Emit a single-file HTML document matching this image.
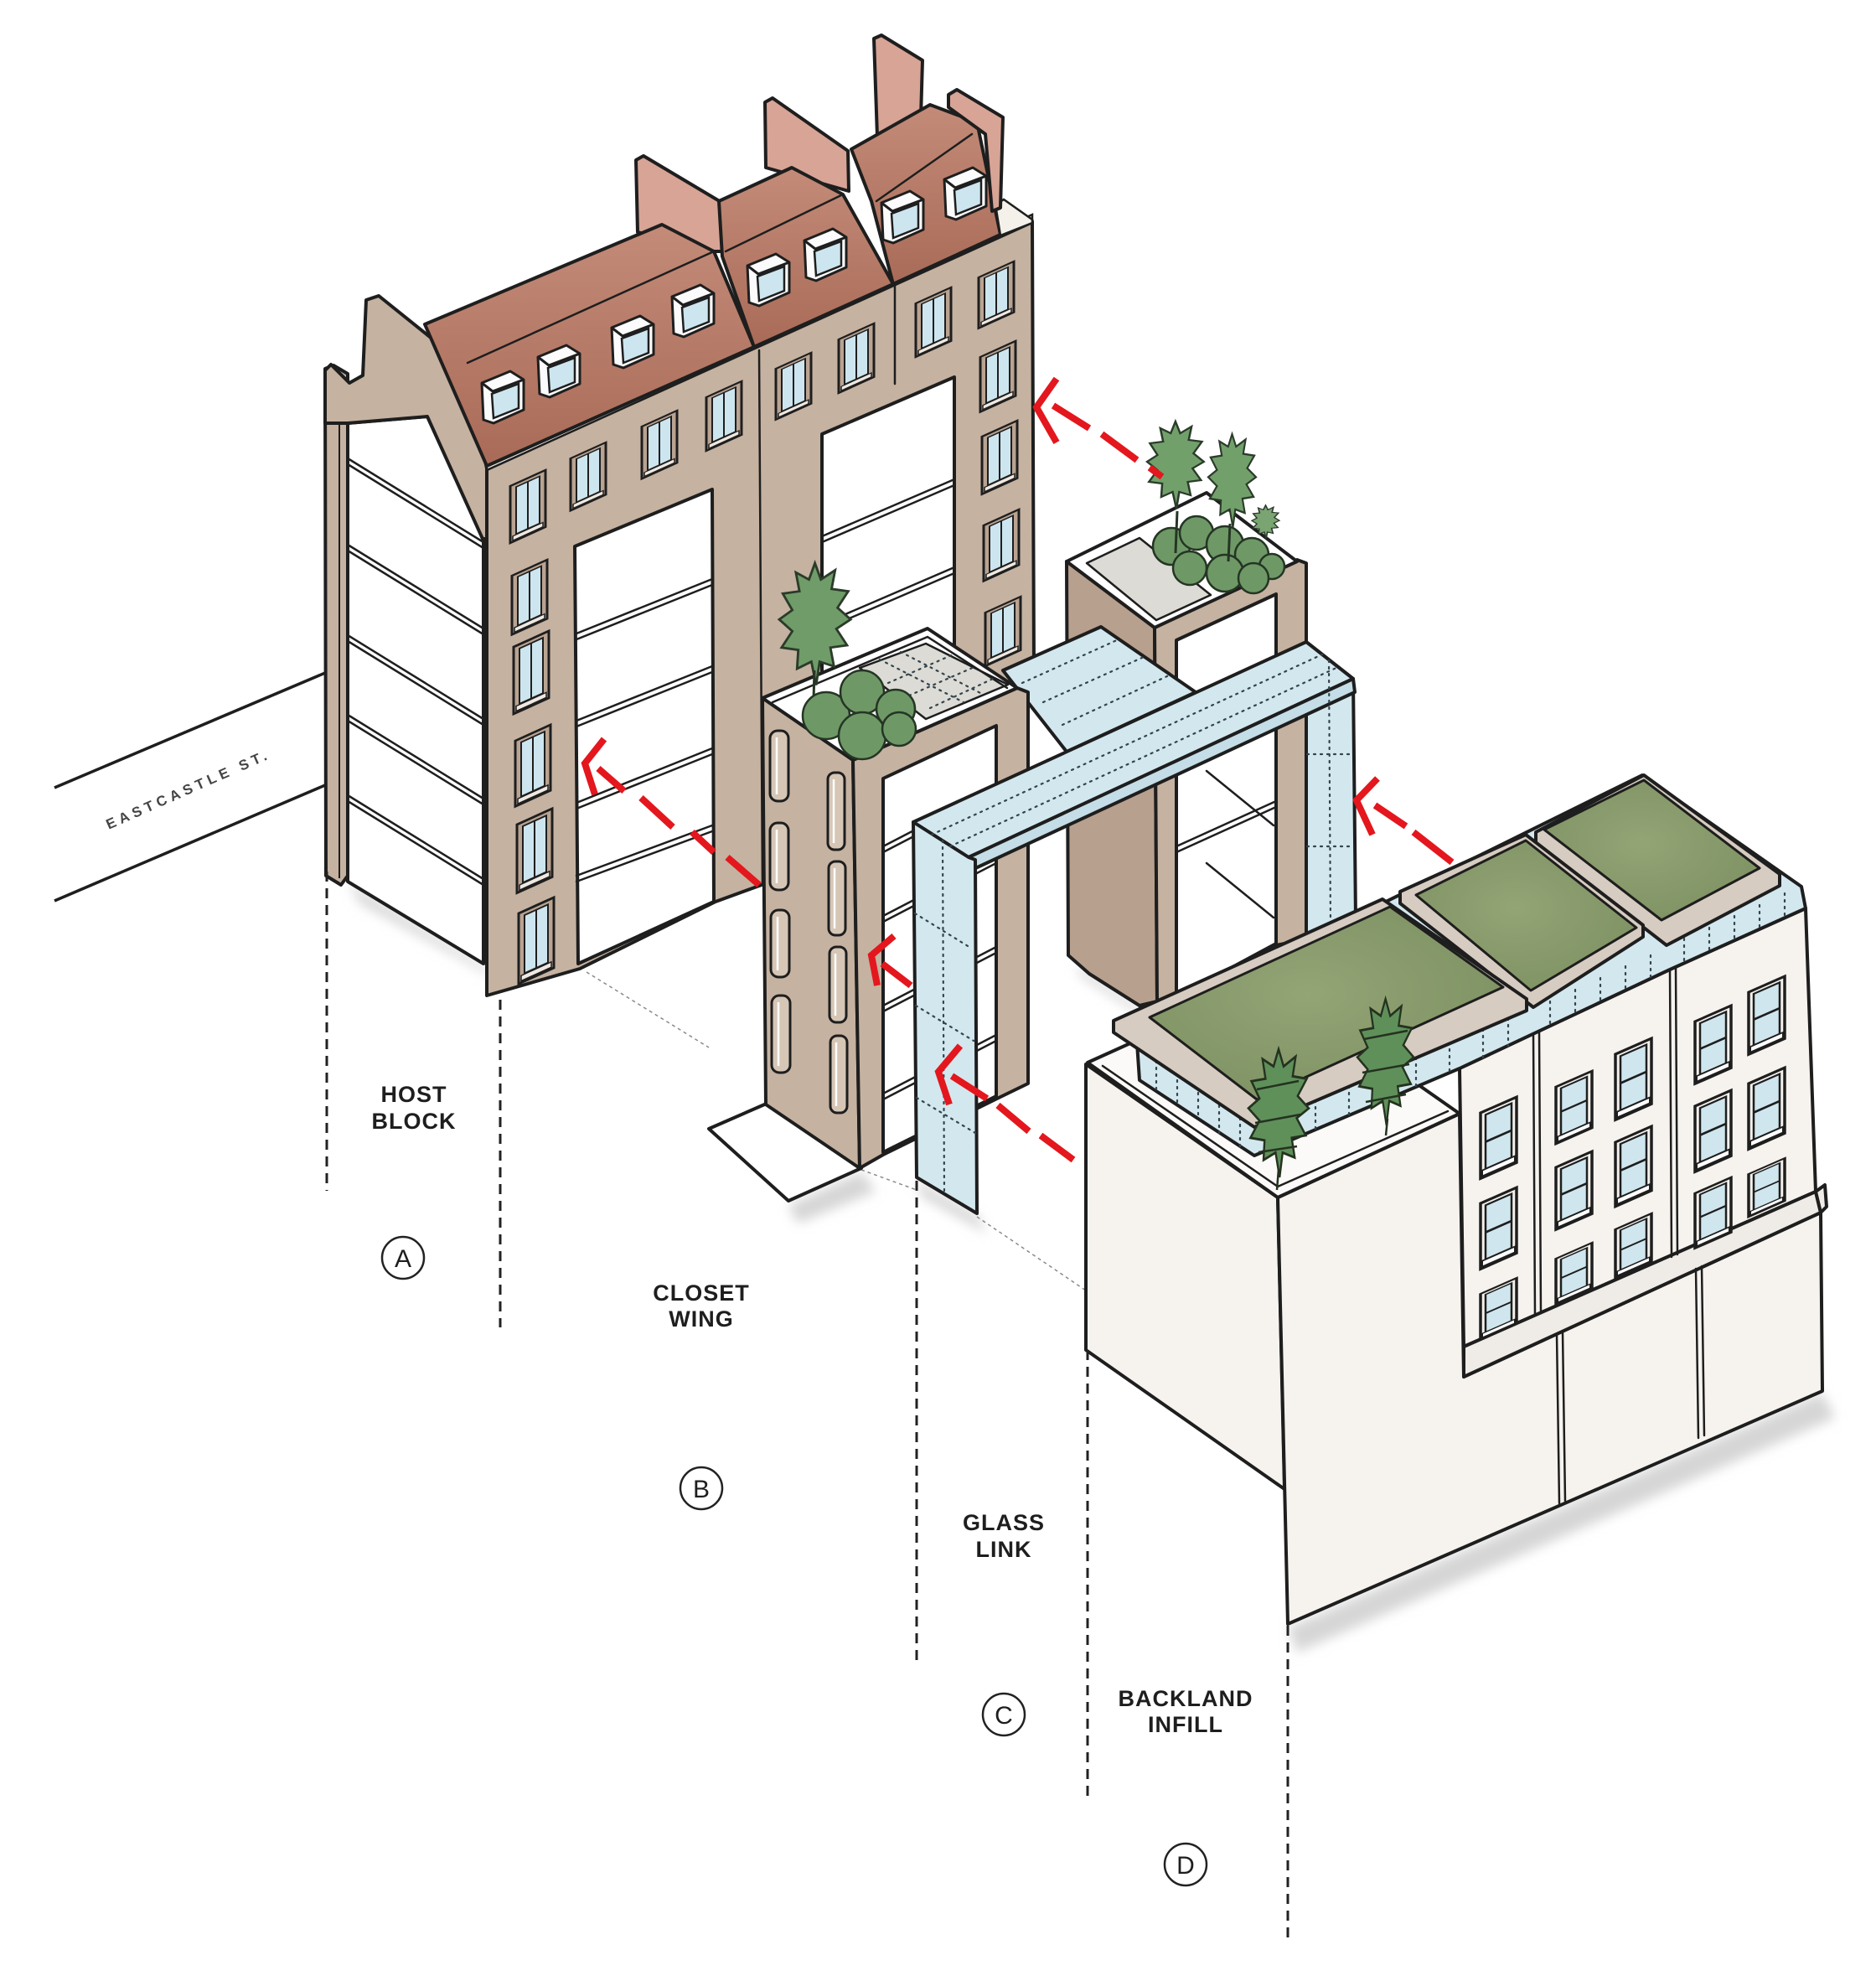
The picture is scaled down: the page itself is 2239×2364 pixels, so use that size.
<!DOCTYPE html>
<html><head><meta charset="utf-8"><title>Diagram</title>
<style>
html,body{margin:0;padding:0;background:#fff}
svg{display:block}
.k{stroke:#1e1e1e;stroke-width:4;stroke-linejoin:round;stroke-linecap:round}
.l{stroke:#1e1e1e;stroke-width:2.5;fill:none;stroke-linecap:round}
.tan{fill:#c5b2a1}
.tan2{fill:#b8a08e}
.gl{fill:#d3e7ee}
.ow{fill:#f6f3ef}
.red{stroke:#e3171d;stroke-width:8;fill:none;stroke-linecap:butt;stroke-linejoin:miter}
.dl{stroke:#222;stroke-width:3;stroke-dasharray:12 8;fill:none}
.dot{stroke:#33444c;stroke-width:2.2;stroke-dasharray:2 6;fill:none;stroke-linecap:round}
.lbl{font-family:"Liberation Sans",Arial,sans-serif;font-weight:bold;font-size:27px;fill:#1e1e1e;letter-spacing:1px;text-anchor:middle}
.cl{font-family:"Liberation Sans",Arial,sans-serif;font-size:30px;fill:#1e1e1e;text-anchor:middle}
</style></head><body>
<svg xmlns="http://www.w3.org/2000/svg" width="2239" height="2364" viewBox="0 0 2239 2364">
<defs>
<linearGradient id="rg" x1="0" y1="0" x2="0" y2="1"><stop offset="0" stop-color="#c38b78"/><stop offset="1" stop-color="#a96b58"/></linearGradient>
<radialGradient id="gg" cx="0.45" cy="0.45" r="0.75"><stop offset="0" stop-color="#93a475"/><stop offset="1" stop-color="#7a8e5f"/></radialGradient>
<filter id="bl" x="-30%" y="-30%" width="160%" height="160%"><feGaussianBlur stdDeviation="7"/></filter>
<g id="hw">
 <rect width="42" height="80" fill="#b9a391" stroke="#1e1e1e" stroke-width="3"/>
 <rect x="7" y="5" width="28" height="66" fill="#cde5ee" stroke="#1e1e1e" stroke-width="2"/>
 <line x1="21" y1="5" x2="21" y2="71" stroke="#1e1e1e" stroke-width="2"/>
 <rect x="3" y="72" width="36" height="6" fill="#efe9e2" stroke="#1e1e1e" stroke-width="1.5"/>
</g>
<g id="bw">
 <rect width="43" height="80" fill="#f4f1ec" stroke="#1e1e1e" stroke-width="3.5"/>
 <rect x="6" y="5" width="31" height="66" fill="#cfe6ef" stroke="#1e1e1e" stroke-width="2.5"/>
 <line x1="6" y1="38" x2="37" y2="38" stroke="#1e1e1e" stroke-width="3"/>
 <rect x="2" y="71" width="39" height="7" fill="#fff" stroke="#1e1e1e" stroke-width="2"/>
</g>
<g id="dm">
 <polygon points="0,14 34,0 50,10 50,46 14,62 2,58" fill="#fbfbfb" stroke="#1e1e1e" stroke-width="3" stroke-linejoin="round"/>
 <polygon points="12,27 44,15 44,44 14,56" fill="#cde5ee" stroke="#1e1e1e" stroke-width="2.5"/>
 <polyline points="0,14 13,24 50,10" fill="none" stroke="#1e1e1e" stroke-width="3"/>
</g>
<path id="hl" d="M30,0 L35,14 L47,6 L44,22 L58,24 L49,38 L60,48 L48,56 L57,70 L43,72 L46,88 L34,84 L31,104 L27,84 L15,90 L16,74 L2,72 L11,58 L0,48 L11,40 L3,26 L17,24 L14,8 L25,14 Z"/>
</defs>

<!-- STREET -->
<line x1="65" y1="940" x2="388" y2="803" stroke="#1e1e1e" stroke-width="3.5"/>
<line x1="65" y1="1075" x2="388" y2="937" stroke="#1e1e1e" stroke-width="3.5"/>
<text transform="translate(227,947) rotate(-23.8)" font-family="Liberation Sans, Arial, sans-serif" font-weight="bold" font-size="17" letter-spacing="5" text-anchor="middle" fill="#444">EASTCASTLE ST.</text>

<!-- SHADOWS -->
<g filter="url(#bl)" fill="#d6d6d6">
<polygon points="415,1052 577,1152 605,1175 430,1078"/>
<polygon points="941,1438 1028,1398 1045,1422 952,1460"/>
<polygon points="1537,1942 2175,1662 2190,1692 1548,1972"/>
<polygon points="1094,1408 1166,1450 1178,1472 1100,1428"/>
<polygon points="1284,1150 1360,1202 1372,1218 1290,1165"/>
</g>

<!-- faint ground lines -->
<g stroke="#8a8a8a" stroke-width="1.5" stroke-dasharray="4 4" fill="none">
<path d="M700,1160 L846,1250 M1028,1396 L1094,1420 M1166,1452 L1296,1540"/>
</g>

<!-- ================= HOST BLOCK ================= -->
<g class="k">
<polygon fill="#fff" points="415,505 510,497 577,643 577,1150 415,1052"/>
</g>
<path class="l" d="M415,547 L577,647 M415,554 L577,654 M415,650 L577,750 M415,657 L577,757 M415,758 L577,858 M415,765 L577,865 M415,853 L577,953 M415,860 L577,960 M415,949 L577,1049 M415,956 L577,1056"/>
<g class="k">
<polygon class="tan" points="388,440 398,436 415,446 415,1045 407,1056 389,1045"/>
</g>
<line x1="405" y1="445" x2="405" y2="1048" stroke="#1e1e1e" stroke-width="2"/>
<g class="k">
<polygon class="tan" points="388,442 395,435 417,457 433,448 437,358 452,353 554,435 581,559 581,643 576,643 510,497 415,505 388,505"/>
<!-- facade -->
<polygon class="tan" points="581,559 1232,264 1234,800 1190,830 909,1056 854,1076 692,1156 581,1188"/>
<polygon fill="#fff" points="686,652 850,584 852,1076 690,1150"/>
<polygon fill="#fff" points="981,518 1139,450 1139,900 981,960"/>
</g>
<path class="l" d="M688,756 L850,691 M688,763 L850,698 M688,860 L850,795 M688,867 L850,802 M688,958 L850,893 M688,965 L850,900 M688,1045 L850,985 M688,1052 L850,992"/>
<path class="l" d="M981,640 L1139,572 M981,647 L1139,579 M981,745 L1139,677 M981,752 L1139,684"/>
<path class="l" d="M906,418 L910,1056 M1068,340 L1068,458"/>
<!-- cornice -->
<polygon points="581,550 1232,256 1232,266 581,561" fill="#f3eee7" stroke="#1e1e1e" stroke-width="2.5"/>

<!-- party walls behind -->
<g class="k" fill="#d7a496">
<polygon points="759,191 768,186 862,242 862,300 852,300 761,277"/>
<polygon points="913,122 922,117 1012,180 1013,228 914,200"/>
<polygon points="1043,46 1052,42 1101,72 1099,140 1047,163"/>
</g>
<!-- roofs -->
<g class="k" fill="url(#rg)">
<polygon points="507,387 790,268 852,300 900,414 581,556"/>
<polygon points="858,240 945,200 1006,232 1066,339 900,414 862,306"/>
<polygon points="1016,178 1110,125 1166,146 1194,280 1066,339 1040,240"/>
</g>
<path class="l" d="M558,433 L852,300 M866,300 L1006,232 M1046,240 L1160,160" stroke="#5b3326"/>
<polygon points="1188,244 1198,238 1232,262 1232,266 1194,281" fill="#f4f0ea" stroke="#1e1e1e" stroke-width="2.5"/>
<polygon class="k" fill="#d7a496" points="1132,113 1142,107 1197,140 1194,248 1184,252 1176,160 1132,128"/>
<!-- dormers -->
<use href="#dm" transform="translate(575,443)"/>
<use href="#dm" transform="translate(642,412)"/>
<use href="#dm" transform="translate(730,377)"/>
<use href="#dm" transform="translate(802,340)"/>
<use href="#dm" transform="translate(892,303)"/>
<use href="#dm" transform="translate(960,273)"/>
<use href="#dm" transform="translate(1052,228)"/>
<use href="#dm" transform="translate(1127,200)"/>
<!-- facade windows -->
<use href="#hw" transform="translate(609,580) skewY(-24.4) scale(1,0.85)"/>
<use href="#hw" transform="translate(611,687) skewY(-24.4) scale(1,0.88)"/>
<use href="#hw" transform="translate(613,772) skewY(-24.4) scale(1,1.0)"/>
<use href="#hw" transform="translate(615,884) skewY(-24.4) scale(1,0.98)"/>
<use href="#hw" transform="translate(617,984) skewY(-24.4) scale(1,1.02)"/>
<use href="#hw" transform="translate(619,1090) skewY(-24.4) scale(1,1.05)"/>
<use href="#hw" transform="translate(681,547) skewY(-24.4) scale(1,0.78)"/>
<use href="#hw" transform="translate(766,509) skewY(-24.4) scale(1,0.78)"/>
<use href="#hw" transform="translate(843,474) skewY(-24.4) scale(1,0.8)"/>
<use href="#hw" transform="translate(926,440) skewY(-24.4) scale(1,0.76)"/>
<use href="#hw" transform="translate(1001,405) skewY(-24.4) scale(1,0.8)"/>
<use href="#hw" transform="translate(1093,362) skewY(-24.4) scale(1,0.8)"/>
<use href="#hw" transform="translate(1168,331) skewY(-24.4) scale(1,0.76)"/>
<use href="#hw" transform="translate(1170,426) skewY(-24.4) scale(1,0.82)"/>
<use href="#hw" transform="translate(1172,521) skewY(-24.4) scale(1,0.86)"/>
<use href="#hw" transform="translate(1174,627) skewY(-24.4) scale(1,0.83)"/>
<use href="#hw" transform="translate(1176,731) skewY(-24.4) scale(1,0.8)"/>

<!-- ================= REAR BOX ================= -->
<g class="k">
<polygon class="tan2" points="1273,670 1378,749 1381,1195 1360,1200 1300,1162 1275,1140"/>
<polygon class="tan" points="1378,749 1548,668 1559,672 1559,1121 1523,1128 1406,1195 1381,1195"/>
<polygon fill="#fff" points="1404,764 1523,709 1523,1126 1404,1190"/>
</g>
<path class="l" d="M1404,900 L1523,846 M1404,907 L1523,853 M1404,1010 L1523,956 M1404,1017 L1523,963 M1440,920 L1520,985 M1440,1030 L1520,1095"/>
<g class="k">
<polygon fill="#fff" points="1273,670 1440,588 1548,670 1378,749"/>
<polygon fill="#dcdbd5" stroke-width="2.5" points="1297,672 1360,642 1445,710 1380,740"/>
</g>
<g fill="#6e9966" stroke="#253524" stroke-width="2.5">
<circle cx="1398" cy="652" r="22"/><circle cx="1428" cy="636" r="20"/><circle cx="1462" cy="650" r="22"/>
<circle cx="1494" cy="662" r="20"/><circle cx="1518" cy="676" r="15"/><circle cx="1420" cy="678" r="20"/>
<circle cx="1462" cy="684" r="22"/><circle cx="1496" cy="690" r="18"/>
</g>
<path d="M1405,610 L1403,660 M1468,625 L1466,670" stroke="#253524" stroke-width="3"/>
<use href="#hl" fill="#72a06b" stroke="#2b3b2a" stroke-width="2.2" transform="translate(1369,503) scale(1.13,1.0)"/>
<use href="#hl" fill="#72a06b" stroke="#2b3b2a" stroke-width="2.2" transform="translate(1442,518) scale(0.95,1.07)"/>
<use href="#hl" fill="#7aa472" stroke="#2b3b2a" stroke-width="3" transform="translate(1494,603) scale(0.55,0.38)"/>

<!-- connector -->
<polygon class="k gl" points="1197,800 1314,748 1427,826 1273,897"/>
<path class="dot" d="M1220,815 L1335,763 M1245,838 L1365,784 M1268,865 L1395,806"/>

<!-- ================= CLOSET WING ================= -->
<g class="k">
<polygon fill="#fff" points="846,1347 917,1316 1028,1394 941,1433"/>
<polygon class="tan" points="910,833 1018,907 1026,1394 914,1318"/>
<polygon class="tan" points="1018,907 1214,821 1227,826 1227,1293 1192,1310 1054,1378 1026,1394"/>
<polygon fill="#fff" points="1054,929 1189,866 1189,1308 1054,1375"/>
</g>
<path class="l" d="M1054,1010 L1189,940 M1054,1017 L1189,947 M1054,1093 L1189,1023 M1054,1100 L1189,1030 M1054,1200 L1189,1130 M1054,1207 L1189,1137 M1054,1305 L1189,1235 M1054,1312 L1189,1242"/>
<!-- slot windows -->
<g fill="#d6c6b6" stroke="#1e1e1e" stroke-width="3">
<rect x="919" y="872" width="22" height="84" rx="9"/>
<rect x="919" y="982" width="22" height="80" rx="9"/>
<rect x="920" y="1086" width="22" height="80" rx="9"/>
<rect x="921" y="1188" width="22" height="92" rx="9"/>
<rect x="988" y="922" width="20" height="92" rx="8"/>
<rect x="989" y="1028" width="20" height="88" rx="8"/>
<rect x="990" y="1130" width="20" height="90" rx="8"/>
<rect x="991" y="1236" width="20" height="92" rx="8"/>
</g>
<g stroke="#fff" stroke-width="2.5">
<path d="M927,880 L927,948 M927,990 L927,1054 M928,1094 L928,1158 M929,1196 L929,1272 M995,930 L995,1006 M996,1036 L996,1108 M997,1138 L997,1212 M998,1244 L998,1320"/>
</g>
<!-- top of closet wing -->
<g class="k">
<polygon fill="#fff" points="910,833 1107,750 1214,821 1018,907"/>
<polygon fill="#dcdbd5" stroke-width="2.5" points="1026,797 1105,768 1203,817 1105,858"/>
</g>
<path class="l" d="M922,838 L1107,760 L1202,821" stroke-width="2"/>
<path class="dot" d="M1050,787 L1150,838 M1075,778 L1172,828 M1060,815 L1140,780 M1085,830 L1165,795 M1110,845 L1185,810"/>
<use href="#hl" fill="#6f9c68" stroke="#2b3b2a" stroke-width="2" transform="translate(930,672) scale(1.42,1.4)"/>
<path d="M972,800 L971,835" stroke="#253524" stroke-width="3"/>
<g fill="#6e9966" stroke="#253524" stroke-width="2.5">
<circle cx="986" cy="854" r="28"/><circle cx="1029" cy="826" r="26"/><circle cx="1069" cy="846" r="23"/>
<circle cx="1029" cy="878" r="28"/><circle cx="1073" cy="870" r="20"/>
</g>

<!-- ================= GLASS LINK ================= -->
<g class="k gl">
<polygon points="1559,766 1615,810 1618,1098 1559,1120"/>
<polygon points="1090,981 1559,766 1615,810 1156,1023"/>
<polygon points="1156,1023 1615,810 1617,826 1160,1038" fill="#c4dde6"/>
<polygon points="1090,981 1156,1023 1164,1026 1166,1448 1094,1405"/>
</g>
<path class="dot" d="M1112,996 L1578,781 M1134,1010 L1597,796 M1125,1003 L1127,1426 M1092,1090 L1160,1132 M1093,1200 L1162,1242 M1094,1310 L1164,1352 M1586,788 L1588,1105 M1560,900 L1616,900 M1560,1010 L1616,1010"/>

<!-- ================= BACKLAND INFILL ================= -->
<g class="k">
<polygon class="ow" points="1296,1270 1525,1429 1533,1777 1296,1611"/>
<polygon class="ow" points="1525,1429 1742,1329 1747,1643 2173,1447 2175,1660 1537,1938"/>
<polygon class="ow" points="1742,1275 1993,1157 2155,1084 2167,1422 1747,1607"/>
<polygon fill="#efebe6" points="1747,1607 2167,1422 2173,1447 1747,1643"/>
<polygon fill="#efebe6" points="2167,1422 2178,1414 2180,1440 2173,1447"/>
</g>
<path class="l" d="M1858,1592 L1861,1794 M1865,1589 L1868,1791 M2024,1514 L2027,1716 M2031,1511 L2034,1713" stroke-width="3"/>
<path class="l" d="M1830,1233 L1832,1570 M1837,1230 L1839,1567 M1993,1157 L1995,1500 M2000,1154 L2002,1497" stroke-width="3"/>
<!-- windows -->
<use href="#bw" transform="translate(1767,1328) skewY(-23.75) scale(1,0.98)"/>
<use href="#bw" transform="translate(1767,1436) skewY(-23.75) scale(1,0.98)"/>
<use href="#bw" transform="translate(1767,1544) skewY(-23.75) scale(1,0.68)"/>
<use href="#bw" transform="translate(1857,1297) skewY(-23.75) scale(1,0.85)"/>
<use href="#bw" transform="translate(1857,1393) skewY(-23.75) scale(1,0.93)"/>
<use href="#bw" transform="translate(1857,1502) skewY(-23.75) scale(1,0.68)"/>
<use href="#bw" transform="translate(1928,1258) skewY(-23.75) scale(1,0.98)"/>
<use href="#bw" transform="translate(1928,1363) skewY(-23.75) scale(1,0.96)"/>
<use href="#bw" transform="translate(1928,1467) skewY(-23.75) scale(1,0.72)"/>
<use href="#bw" transform="translate(2023,1219) skewY(-23.75) scale(1,0.93)"/>
<use href="#bw" transform="translate(2023,1320) skewY(-23.75) scale(1,0.98)"/>
<use href="#bw" transform="translate(2023,1424) skewY(-23.75) scale(1,0.82)"/>
<use href="#bw" transform="translate(2087,1184) skewY(-23.75) scale(1,0.93)"/>
<use href="#bw" transform="translate(2087,1293) skewY(-23.75) scale(1,0.98)"/>
<use href="#bw" transform="translate(2087,1401) skewY(-23.75) scale(1,0.64)"/>
<!-- planter top of lower block -->
<polygon class="k" fill="#fbfaf8" points="1298,1268 1515,1170 1742,1329 1525,1429"/>
<path class="l" d="M1316,1272 L1525,1416 L1728,1326"/>
<!-- clerestory glass -->
<polygon class="k gl" points="1356,1230 1650,1078 1960,925 2150,1058 2155,1084 1993,1157 1742,1275 1497,1379 1360,1289"/>
<path class="dot" stroke-dasharray="4 5" d="M1380,1250 L1380,1302 M1405,1265 L1405,1319 M1430,1280 L1430,1335 M1455,1295 L1455,1352 M1480,1310 L1480,1368 M1530,1330 L1530,1365 M1570,1313 L1570,1348 M1610,1296 L1610,1331 M1650,1279 L1650,1314 M1690,1262 L1690,1297 M1730,1244 L1730,1280 M1770,1228 L1770,1262 M1800,1215 L1800,1248 M1850,1195 L1850,1224 M1880,1181 L1880,1210 M1910,1167 L1910,1196 M1940,1153 L1940,1182 M1970,1140 L1970,1169 M2010,1120 L2010,1149 M2040,1107 L2040,1136 M2070,1093 L2070,1122 M2100,1080 L2100,1109 M2130,1066 L2130,1095"/>
<!-- roof slabs -->
<g class="k">
<polygon fill="#d7ccc1" points="1833,993 1962,925 2124,1043 2124,1057 1989,1128 1833,1007"/>
<polygon fill="url(#gg)" stroke-width="3" points="1843,990 1962,931 2100,1036 1983,1098"/>
<polygon fill="#d7ccc1" points="1671,1064 1821,996 1961,1104 1961,1118 1830,1202 1671,1078"/>
<polygon fill="url(#gg)" stroke-width="3" points="1690,1068 1821,1003 1953,1107 1827,1182"/>
<polygon fill="#d7ccc1" points="1329,1218 1650,1073 1822,1192 1822,1206 1497,1345 1329,1232"/>
<polygon fill="url(#gg)" stroke-width="3" points="1372,1214 1659,1082 1794,1178 1500,1312"/>
</g>
<!-- backland hollies -->
<use href="#hl" fill="#5f905a" stroke="#24321f" stroke-width="2" transform="translate(1490,1252) scale(1.2,1.47)"/>
<use href="#hl" fill="#5f905a" stroke="#24321f" stroke-width="2" transform="translate(1620,1192) scale(1.12,1.45)"/>
<path d="M1500,1300 L1550,1290 M1498,1340 L1552,1330 M1502,1375 L1548,1368 M1628,1240 L1680,1230 M1626,1280 L1682,1270 M1630,1315 L1678,1306 M1526,1395 L1524,1420 M1656,1335 L1654,1355" stroke="#24321f" stroke-width="2.5" fill="none"/>

<!-- ================= RED ARROWS ================= -->
<g class="red">
<polyline points="1261,452 1237,486 1261,528"/>
<path d="M1257,484 L1300,511 M1315,518 L1357,549 M1372,558 L1387,569"/>
<polyline points="721,882 698,911 710,948"/>
<path d="M714,917 L745,944 M765,952 L803,987 M826,993 L852,1017 M868,1023 L906,1056"/>
<polyline points="1067,1117 1040,1140 1047,1176"/>
<path d="M1053,1150 L1087,1176"/>
<polyline points="1146,1248 1120,1279 1133,1318"/>
<path d="M1136,1284 L1178,1311 M1191,1319 L1228,1350 M1242,1355 L1281,1384"/>
<polyline points="1644,929 1619,955 1638,996"/>
<path d="M1641,961 L1678,986 M1687,993 L1733,1029"/>
</g>

<!-- ================= LEADER LINES ================= -->
<path class="dl" d="M390,1040 L390,1421 M597,1193 L597,1584 M1094,1409 L1094,1982 M1298,1611 L1298,2145 M1537,1940 L1537,2319"/>

<!-- ================= LABELS ================= -->
<text x="494" y="1315" class="lbl">HOST</text>
<text x="494" y="1347" class="lbl">BLOCK</text>
<text x="837" y="1552" class="lbl">CLOSET</text>
<text x="837" y="1583" class="lbl">WING</text>
<text x="1198" y="1826" class="lbl">GLASS</text>
<text x="1198" y="1858" class="lbl">LINK</text>
<text x="1415" y="2036" class="lbl">BACKLAND</text>
<text x="1415" y="2067" class="lbl">INFILL</text>

<g fill="none" stroke="#222" stroke-width="2.5">
<circle cx="481" cy="1501" r="25"/>
<circle cx="837" cy="1776" r="25"/>
<circle cx="1198" cy="2046" r="25"/>
<circle cx="1415" cy="2225" r="25"/>
</g>
<text x="481" y="1512" class="cl">A</text>
<text x="837" y="1787" class="cl">B</text>
<text x="1198" y="2057" class="cl">C</text>
<text x="1415" y="2236" class="cl">D</text>
</svg>
</body></html>
